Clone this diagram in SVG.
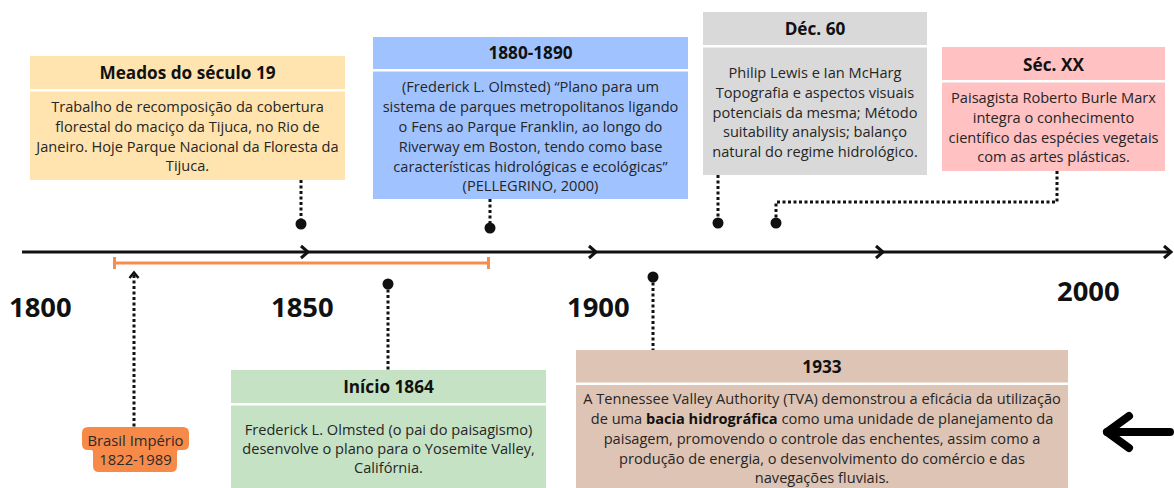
<svg xmlns="http://www.w3.org/2000/svg" width="1174" height="488" viewBox="0 0 1174 488">
<style>
text{font-family:"Open Sans","Noto Sans","DejaVu Sans",sans-serif;}
.h{font-size:17.2px;font-weight:700;fill:#111;text-anchor:middle;}
.b{font-size:14.6px;fill:#262626;text-anchor:middle;}
.yr{font-size:27.4px;font-weight:700;fill:#111;}
.dot{fill:#111;}
.dl{fill:none;stroke:#111;stroke-width:3;stroke-dasharray:3 2.5;}
.tl{fill:none;stroke:#111;stroke-width:3;}
</style>
<rect width="1174" height="488" fill="#fff"/>
<g id="connectors">
  <line class="tl" x1="22" y1="252" x2="1171" y2="252"/>
  <polyline class="tl" points="301,246 308,252 301,258"/>
  <polyline class="tl" points="589,246 596,252 589,258"/>
  <polyline class="tl" points="876,246 883,252 876,258"/>
  <polyline class="tl" points="1164,246 1171,252 1164,258"/>
  <g stroke="#F98B4C" stroke-width="3" fill="none">
    <line x1="114" y1="263" x2="489" y2="263"/>
    <line x1="114.5" y1="257" x2="114.5" y2="269"/>
    <line x1="488.5" y1="257" x2="488.5" y2="269"/>
  </g>
  <line class="dl" x1="301" y1="180" x2="301" y2="224"/>
  <circle class="dot" cx="301" cy="224" r="5.5"/>
  <line class="dl" x1="490" y1="199" x2="490" y2="228"/>
  <circle class="dot" cx="490" cy="228" r="5.5"/>
  <line class="dl" x1="718" y1="175" x2="718" y2="223"/>
  <circle class="dot" cx="718" cy="223" r="5.5"/>
  <polyline class="dl" points="1057,171 1057,202 776,202 776,223"/>
  <circle class="dot" cx="776" cy="223" r="5.5"/>
  <line class="dl" x1="388" y1="284" x2="388" y2="370"/>
  <circle class="dot" cx="388" cy="284" r="5.5"/>
  <line class="dl" x1="653" y1="277" x2="653" y2="350"/>
  <circle class="dot" cx="653" cy="277" r="5.5"/>
  <line class="dl" x1="134" y1="275" x2="134" y2="427"/>
  <polyline points="129.5,278 134,272.5 138.5,278" fill="none" stroke="#111" stroke-width="2.5"/>
  <g stroke="#000" stroke-width="8" stroke-linecap="round" stroke-linejoin="round" fill="none">
    <line x1="1107" y1="432" x2="1170" y2="432"/>
    <polyline points="1129,416 1107,432 1129,448"/>
  </g>
</g>
<g id="years">
  <text class="yr" x="9" y="317">1800</text>
  <text class="yr" x="271" y="317">1850</text>
  <text class="yr" x="567" y="317">1900</text>
  <text class="yr" x="1057" y="301">2000</text>
</g>
<g id="meados">
  <rect x="30" y="56" width="315" height="33" fill="#FFE4AF"/>
  <rect x="30" y="91.5" width="315" height="88.5" fill="#FFE4AF"/>
  <text class="h" x="187.5" y="79">Meados do século 19</text>
  <text class="b" x="187.5" y="112">Trabalho de recomposição da cobertura</text>
  <text class="b" x="187.5" y="132">florestal do maciço da Tijuca, no Rio de</text>
  <text class="b" x="187.5" y="152">Janeiro. Hoje Parque Nacional da Floresta da</text>
  <text class="b" x="187.5" y="171">Tijuca.</text>
</g>
<g id="n1880">
  <rect x="373" y="37" width="315" height="32" fill="#A0C3FF"/>
  <rect x="373" y="71.5" width="315" height="127.5" fill="#A0C3FF"/>
  <text class="h" x="530.5" y="59">1880-1890</text>
  <text class="b" x="530.5" y="92">(Frederick L. Olmsted) “Plano para um</text>
  <text class="b" x="530.5" y="112">sistema de parques metropolitanos ligando</text>
  <text class="b" x="530.5" y="132">o Fens ao Parque Franklin, ao longo do</text>
  <text class="b" x="530.5" y="152">Riverway em Boston, tendo como base</text>
  <text class="b" x="530.5" y="172">características hidrológicas e ecológicas”</text>
  <text class="b" x="530.5" y="191">(PELLEGRINO, 2000)</text>
</g>
<g id="dec60">
  <rect x="703" y="12" width="224" height="33" fill="#D9D9D9"/>
  <rect x="703" y="47.5" width="224" height="127.5" fill="#D9D9D9"/>
  <text class="h" x="815" y="35">Déc. 60</text>
  <text class="b" x="815" y="78">Philip Lewis e Ian McHarg</text>
  <text class="b" x="815" y="98">Topografia e aspectos visuais</text>
  <text class="b" x="815" y="118">potenciais da mesma; Método</text>
  <text class="b" x="815" y="137">suitability analysis; balanço</text>
  <text class="b" x="815" y="157">natural do regime hidrológico.</text>
</g>
<g id="secxx">
  <rect x="942" y="47" width="223" height="33" fill="#FFC1C2"/>
  <rect x="942" y="82.5" width="223" height="88.5" fill="#FFC1C2"/>
  <text class="h" x="1053.5" y="71">Séc. XX</text>
  <text class="b" x="1053.5" y="103">Paisagista Roberto Burle Marx</text>
  <text class="b" x="1053.5" y="123">integra o conhecimento</text>
  <text class="b" x="1053.5" y="143">científico das espécies vegetais</text>
  <text class="b" x="1053.5" y="162">com as artes plásticas.</text>
</g>
<g id="inicio1864">
  <rect x="231" y="370" width="315" height="33" fill="#C5E2C4"/>
  <rect x="231" y="405.5" width="315" height="82.5" fill="#C5E2C4"/>
  <text class="h" x="388.5" y="393">Início 1864</text>
  <text class="b" x="388.5" y="435">Frederick L. Olmsted (o pai do paisagismo)</text>
  <text class="b" x="388.5" y="454">desenvolve o plano para o Yosemite Valley,</text>
  <text class="b" x="388.5" y="473">Califórnia.</text>
</g>
<g id="n1933">
  <rect x="576" y="350" width="492" height="32.5" fill="#DEC4B4"/>
  <rect x="576" y="385" width="492" height="103" fill="#DEC4B4"/>
  <text class="h" x="822" y="372.5">1933</text>
  <text class="b" x="822" y="404">A Tennessee Valley Authority (TVA) demonstrou a eficácia da utilização</text>
  <text class="b" x="822" y="424">de uma <tspan font-weight="700" fill="#111">bacia hidrográfica</tspan> como uma unidade de planejamento da</text>
  <text class="b" x="822" y="444">paisagem, promovendo o controle das enchentes, assim como a</text>
  <text class="b" x="822" y="464">produção de energia, o desenvolvimento do comércio e das</text>
  <text class="b" x="822" y="483">navegações fluviais.</text>
</g>
<g id="brasil-imperio">
  <path d="M88,427 H183 Q189,427 189,433 V444 Q189,450 183,450 H179 Q177,450 177,452 V466 Q177,472 171,472 H99 Q93,472 93,466 V452 Q93,450 91,450 H88 Q82,450 82,444 V433 Q82,427 88,427 Z" fill="#F78A49"/>
  <text class="b" x="135.5" y="446" style="font-size:14.8px;fill:#2a2a2a">Brasil Império</text>
  <text class="b" x="135.5" y="465" style="font-size:14.8px;fill:#2a2a2a">1822-1989</text>
</g>
</svg>
